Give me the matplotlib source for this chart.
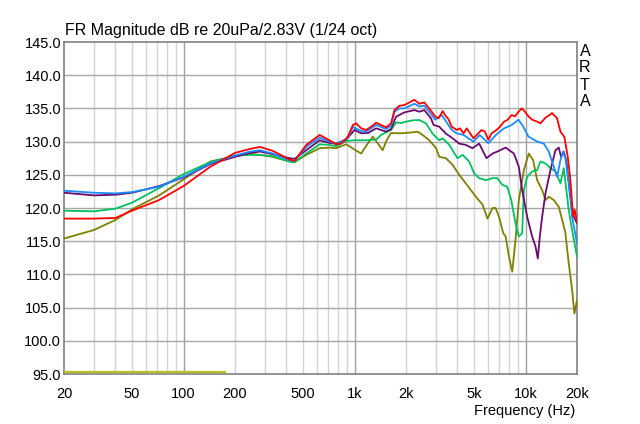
import matplotlib
matplotlib.use("Agg")
import matplotlib.pyplot as plt
from matplotlib.ticker import FixedLocator, NullLocator
import numpy as np

plt.rcParams['font.family'] = ['Liberation Sans', 'DejaVu Sans']

# ---- data (frequency in Hz, level in dB) ----
red_f = [20, 30, 40, 50, 72, 100, 143, 200, 245, 280, 333, 417, 446, 522, 625, 714, 780, 836, 915, 978,
         1022, 1094, 1170, 1250, 1338, 1430, 1530, 1636, 1712, 1830, 1958, 2094, 2240, 2394, 2560, 2770,
         2960, 3100, 3280, 3380, 3540, 3700, 3960, 4140, 4340, 4530, 4740, 4960, 5180, 5540, 5790, 6060,
         6330, 6770, 7100, 7490, 7830, 8290, 8690, 9100, 9500, 9930, 10400, 10940, 11700, 12230, 13080,
         13990, 14300, 15300, 16000, 16880, 17660, 18300, 18970, 19400, 20000]
red_db = [118.4, 118.4, 118.5, 119.6, 121.2, 123.3, 126.2, 128.3, 128.9, 129.2, 128.6, 127.3, 127.1, 129.5,
          131.0, 130.2, 129.6, 129.7, 130.75, 132.5, 132.75, 132.0, 131.75, 132.25, 132.85, 132.5, 132.15,
          132.75, 134.75, 135.4, 135.5, 135.9, 136.3, 135.7, 135.9, 134.8, 133.8, 133.5, 134.6, 134.0,
          133.4, 132.25, 131.75, 132.0, 131.25, 132.0, 131.25, 130.5, 131.0, 131.75, 131.5, 130.25,
          131.25, 131.75, 132.25, 133.0, 133.25, 134.0, 133.8, 134.5, 135.0, 134.5, 133.8, 133.3, 133.0,
          132.75, 133.6, 134.1, 134.3, 133.5, 131.5, 130.7, 127.7, 124.2, 118.7, 119.7, 117.9]

blue_f = [20, 30, 40, 50, 72, 100, 143, 200, 245, 280, 333, 417, 446, 522, 625, 714, 780, 915, 978,
          1094, 1170, 1338, 1530, 1636, 1712, 1830, 1958, 2240, 2394, 2560, 2770, 2960, 3230, 3380, 3700,
          3960, 4340, 4960, 5400, 6060, 6770, 7490, 8290, 9100, 9700, 10400, 11690, 12790, 13680, 14630,
          15300, 16000, 16580, 17110, 17890, 18720, 20000]
blue_db = [122.6, 122.3, 122.2, 122.4, 123.2, 124.7, 126.7, 127.9, 128.5, 128.7, 128.2, 127.2, 127.1,
           129.2, 130.6, 130.0, 129.6, 130.5, 132.2, 131.6, 131.5, 132.5, 131.9, 132.4, 134.5, 135.0,
           135.0, 135.7, 135.3, 135.4, 134.3, 133.3, 134.0, 133.3, 131.75, 131.25, 131.0, 130.0, 131.0,
           129.75, 131.1, 132.0, 132.5, 133.3, 132.25, 130.75, 130.0, 129.7, 128.5, 126.2, 124.7, 127.2,
           128.5, 127.5, 123.7, 118.7, 114.7]

purple_f = [20, 30, 40, 50, 72, 100, 143, 200, 245, 280, 333, 417, 446, 522, 625, 714, 780, 894, 1000,
            1094, 1200, 1338, 1530, 1636, 1750, 1958, 2240, 2394, 2560, 2800, 2900, 3130, 3424,
            3744, 4096, 4478, 4898, 5358, 5914, 6410, 6840, 7650, 8550, 9140, 9560, 10220, 10940, 11440,
            11800, 12120, 12510, 13080, 13990, 14960, 15640, 16140, 16730, 17340, 18300, 19140, 20000]
purple_db = [122.3, 121.9, 122.0, 122.3, 123.3, 124.6, 126.6, 127.7, 128.3, 128.5, 128.1, 127.5, 127.4,
             128.7, 130.2, 129.8, 129.7, 130.3, 131.75, 131.25, 131.3, 132.0, 131.5, 131.9, 133.75, 134.4,
             134.75, 134.5, 134.75, 133.5, 132.5, 132.25, 131.2, 130.5, 129.7, 129.5, 129.0, 129.7,
             127.5, 128.2, 128.5, 129.1, 128.2, 126.2, 122.7, 118.7, 115.7, 114.2, 112.4, 115.7, 118.7,
             122.2, 125.7, 128.7, 129.1, 127.7, 128.5, 127.0, 121.7, 118.7, 117.7]

green_f = [20, 30, 40, 50, 72, 100, 143, 200, 245, 280, 333, 417, 446, 522, 625, 714, 780, 894, 1000,
           1166, 1338, 1430, 1530, 1636, 1750, 1870, 2000, 2187, 2392, 2616, 2862, 3130, 3274, 3580,
           4000, 4282, 4684, 5010, 5358, 5862, 6410, 6840, 7310, 7820, 8250, 8740, 9140, 9560, 9780,
           10220, 10940, 11690, 12230, 13080, 13990, 14960, 16000, 16730, 17890, 18720, 20000]
green_db = [119.6, 119.5, 119.9, 120.8, 123.0, 125.1, 126.9, 127.9, 128.0, 128.0, 127.8, 127.0, 126.9,
            128.2, 129.6, 129.5, 129.3, 130.1, 130.2, 130.2, 130.3, 131.0, 131.4, 131.75, 132.9, 132.8,
            133.0, 133.2, 133.25, 132.75, 131.2, 130.2, 130.5, 129.5, 127.5, 128.0, 127.0, 125.2, 124.5,
            124.2, 124.5, 124.5, 123.5, 123.2, 121.2, 117.7, 115.7, 116.2, 122.7, 124.7, 125.5, 125.7,
            127.0, 126.7, 126.0, 125.5, 123.7, 126.0, 119.7, 116.7, 112.7]

olive_f = [20, 30, 40, 50, 72, 100, 143, 200, 245, 280, 333, 417, 446, 522, 625, 714, 780, 894, 1000,
           1094, 1180, 1280, 1370, 1460, 1540, 1636, 1830, 2000, 2187, 2340, 2500, 2737, 3000, 3130,
           3424, 3744, 4096, 4478, 4790, 5124, 5605, 5993, 6410, 6680, 6990, 7410, 7650, 8000, 8360,
           8740, 9140, 9780, 10450, 11080, 11690, 12510, 13080, 13680, 14630, 15640, 16580, 17110,
           17890, 18720, 19310, 20000]
olive_db = [115.4, 116.7, 118.2, 119.8, 121.9, 124.3, 127.0, 127.8, 128.2, 128.0, 127.7, 127.0, 126.9,
            128.0, 129.0, 129.1, 129.0, 129.6, 128.8, 128.2, 129.5, 130.75, 129.7, 128.7, 130.2, 131.3,
            131.25, 131.3, 131.4, 131.5, 131.0, 130.2, 129.0, 127.7, 127.5, 126.5, 125.0, 123.7, 122.7,
            121.7, 120.5, 118.4, 120.0, 120.0, 118.7, 116.2, 115.7, 112.7, 110.4, 115.2, 121.2, 125.7,
            128.2, 127.2, 124.2, 122.7, 121.2, 121.7, 121.2, 120.2, 117.7, 116.2, 111.7, 107.7, 104.1,
            106.1]

ref_f = [20, 175]
ref_db = [95.3, 95.3]

x_ticks = [20, 50, 100, 200, 500, 1000, 2000, 5000, 10000, 20000]
x_labels = ['20', '50', '100', '200', '500', '1k', '2k', '5k', '10k', '20k']
y_ticks = [95, 100, 105, 110, 115, 120, 125, 130, 135, 140, 145]
y_labels = ['%.1f' % v for v in y_ticks]

# ---- figure ----
fig = plt.figure(figsize=(6.4, 4.24), dpi=100)
ax = fig.add_axes([64 / 640, 1 - 374 / 424, (577 - 64) / 640, (374 - 42) / 424])
ax.set_xscale('log')
ax.set_xlim(20, 20000)
ax.set_ylim(95, 145)

# grid
minor = [f for d in (10, 100, 1000, 10000) for f in np.arange(2, 10) * d if 20 < f < 20000]
for f in minor:
    ax.axvline(f, color='#d4d4d4', lw=1.0, zorder=0)
for f in (100, 1000, 10000):
    ax.axvline(f, color='#a0a0a0', lw=1.0, zorder=0)
for v in y_ticks[1:-1]:
    ax.axhline(v, color='#a8a8a8', lw=1.0, zorder=0)

lw = 1.3
ax.plot(ref_f, ref_db, color='#b8c020', lw=1.6, zorder=3)
ax.plot(olive_f, olive_db, color='#808000', lw=lw, zorder=3)
ax.plot(green_f, green_db, color='#00c060', lw=lw, zorder=3)
ax.plot(purple_f, purple_db, color='#6a0a6e', lw=lw, zorder=3)
ax.plot(blue_f, blue_db, color='#1a8cff', lw=lw, zorder=3)
ax.plot(red_f, red_db, color='#ff0000', lw=lw, zorder=3)

ax.xaxis.set_major_locator(FixedLocator(x_ticks))
ax.xaxis.set_minor_locator(NullLocator())
ax.set_xticklabels(x_labels)
ax.set_yticks(y_ticks)
ax.set_yticklabels(y_labels)
ax.tick_params(axis='both', length=0, labelsize=10.5, colors='black')
ax.tick_params(axis='x', pad=9)
ax.tick_params(axis='y', pad=2)
for s in ax.spines.values():
    s.set_color('#808080')
    s.set_linewidth(1.2)

fig.text(65 / 640, 1 - 30 / 424, 'FR Magnitude dB re 20uPa/2.83V (1/24 oct)', fontsize=11.5,
         ha='left', va='center')
fig.text(575 / 640, 1 - 411 / 424, 'Frequency (Hz)', fontsize=10.5, ha='right', va='center')
for i, ch in enumerate('ARTA'):
    fig.text(585 / 640, 1 - (51 + 17 * i) / 424, ch, fontsize=11.5, ha='center', va='center')

fig.savefig('out.png', dpi=100)
